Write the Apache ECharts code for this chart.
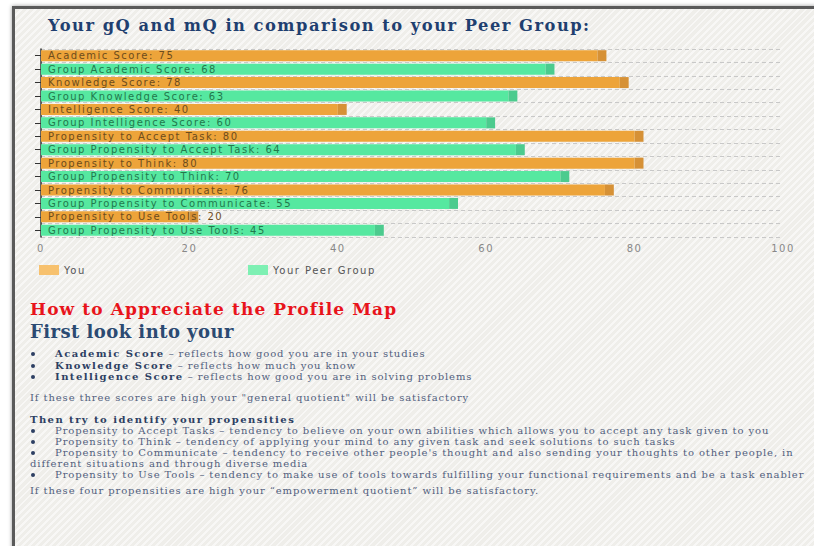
<!DOCTYPE html>
<html>
<head>
<meta charset="utf-8">
<script src="https://cdn.jsdelivr.net/npm/echarts@6/dist/echarts.min.js"></script>
<style>
  html, body { margin: 0; padding: 0; width: 814px; height: 546px; overflow: hidden; background: #fff; }
  .page {
    position: absolute; left: 12px; top: 6px; width: 900px; height: 600px;
    border: 3px solid #5a5a5a;
    box-shadow: 0 0 4px rgba(0,0,0,0.4);
    background-color: #efeeea;
    background-image: repeating-linear-gradient(-45deg, rgba(255,255,255,0.55) 0px, rgba(255,255,255,0.55) 2px, rgba(0,0,0,0) 2px, rgba(0,0,0,0) 5px);
  }
  #chart { position: absolute; left: 0; top: 0; width: 814px; height: 290px; }
  #chart text { letter-spacing: 1.5px; }
  .txt { position: absolute; left: 0; top: 0; font-family: "DejaVu Serif", serif; color: #525f7e; font-size: 10px; letter-spacing: 0.9px; }
  .ln { position: absolute; white-space: nowrap; line-height: 12px; }
  .h1 { color: #e8141b; font-weight: bold; font-size: 17px; line-height: 20px; letter-spacing: 1.1px; }
  .h2 { color: #2b4a72; font-weight: bold; font-size: 18px; line-height: 20px; letter-spacing: 0.45px; }
  .b { color: #2d3f63; font-weight: bold; letter-spacing: 1.45px; }
  .dot { position: absolute; width: 4px; height: 4px; border-radius: 2px; background: #2d3f63; }
</style>
</head>
<body>
<div class="page"></div>
<div id="chart"></div>
<div class="txt">
  <div class="ln h1" style="left:30px;top:299px">How to Appreciate the Profile Map</div>
  <div class="ln h2" style="left:30px;top:322px">First look into your</div>

  <div class="dot" style="left:31px;top:352px"></div>
  <div class="ln" style="left:55px;top:348px"><span class="b">Academic Score</span> – reflects how good you are in your studies</div>
  <div class="dot" style="left:31px;top:364px"></div>
  <div class="ln" style="left:55px;top:360px"><span class="b">Knowledge Score</span> – reflects how much you know</div>
  <div class="dot" style="left:31px;top:375px"></div>
  <div class="ln" style="left:55px;top:371px"><span class="b">Intelligence Score</span> – reflects how good you are in solving problems</div>

  <div class="ln" style="left:30px;top:392px">If these three scores are high your "general quotient" will be satisfactory</div>

  <div class="ln b" style="left:30px;top:414px">Then try to identify your propensities</div>
  <div class="dot" style="left:31px;top:429px"></div>
  <div class="ln" style="left:55px;top:425px">Propensity to Accept Tasks – tendency to believe on your own abilities which allows you to accept any task given to you</div>
  <div class="dot" style="left:31px;top:440px"></div>
  <div class="ln" style="left:55px;top:436px">Propensity to Think – tendency of applying your mind to any given task and seek solutions to such tasks</div>
  <div class="dot" style="left:31px;top:451px"></div>
  <div class="ln" style="left:55px;top:447px">Propensity to Communicate – tendency to receive other people's thought and also sending your thoughts to other people, in</div>
  <div class="ln" style="left:30px;top:458px">different situations and through diverse media</div>
  <div class="dot" style="left:31px;top:473px"></div>
  <div class="ln" style="left:55px;top:469px">Propensity to Use Tools – tendency to make use of tools towards fulfilling your functional requirements and be a task enabler</div>

  <div class="ln" style="left:30px;top:485px">If these four propensities are high your “empowerment quotient” will be satisfactory.</div>
</div>
<script>
// categories, top to bottom
var categories = [
  'Academic Score', 'Group Academic Score',
  'Knowledge Score', 'Group Knowledge Score',
  'Intelligence Score', 'Group Intelligence Score',
  'Propensity to Accept Task', 'Group Propensity to Accept Task',
  'Propensity to Think', 'Group Propensity to Think',
  'Propensity to Communicate', 'Group Propensity to Communicate',
  'Propensity to Use Tools', 'Group Propensity to Use Tools'
];
// own scores (rows of the peer group left empty)
var youValues = [75, '-', 78, '-', 40, '-', 80, '-', 80, '-', 76, '-', 20, '-'];
// peer group scores
var peerValues = ['-', 68, '-', 63, '-', 60, '-', 64, '-', 70, '-', 55, '-', 45];
var xTicks = [0, 20, 40, 60, 80, 100];

var CAP = 1.2; // darker end piece of each bar
var capValues = categories.map(function () { return CAP; });

var myChart = echarts.init(document.getElementById('chart'), null, { renderer: 'svg' });

function labelOpt(color) {
  return {
    show: true,
    position: 'insideLeft',
    distance: 7,
    color: color,
    fontSize: 10,
    fontFamily: 'DejaVu Sans',
    formatter: function (p) { return p.name + ': ' + p.value; }
  };
}

var option = {
  animation: false,
  title: {
    text: 'Your gQ and mQ in comparison to your Peer Group:',
    left: 43,
    top: 12,
    textStyle: { fontFamily: 'DejaVu Serif', fontWeight: 'bold', fontSize: 16.3, color: '#1f3f70' }
  },
  legend: [
    {
      left: 34, top: 260, itemWidth: 20, itemHeight: 10, icon: 'rect', itemGap: 10,
      data: [{ name: 'You', itemStyle: { color: '#f7c16e' } }],
      textStyle: { color: '#555', fontSize: 10, fontFamily: 'DejaVu Sans' }
    },
    {
      left: 243, top: 260, itemWidth: 20, itemHeight: 10, icon: 'rect',
      data: [{ name: 'Your Peer Group', itemStyle: { color: '#7ef0b3' } }],
      textStyle: { color: '#555', fontSize: 10, fontFamily: 'DejaVu Sans' }
    }
  ],
  grid: { left: 41, right: 31, top: 49, height: 188 },
  xAxis: {
    type: 'value',
    min: xTicks[0],
    max: xTicks[xTicks.length - 1],
    interval: xTicks[1] - xTicks[0],
    axisLine: { show: false },
    axisTick: { show: false },
    splitLine: { show: false },
    axisLabel: { color: '#888', fontSize: 10, fontFamily: 'DejaVu Sans', margin: 6 }
  },
  yAxis: {
    type: 'category',
    inverse: true,
    data: categories,
    axisLine: { show: true, lineStyle: { color: '#333', width: 1.5 } },
    axisTick: { show: true, interval: 0, alignWithLabel: true, length: 6, lineStyle: { color: '#333' } },
    axisLabel: { show: false, interval: 0 },
    splitLine: { show: true, interval: 0, lineStyle: { color: '#c8c8c8', type: [4, 3] } }
  },
  series: [
    {
      name: 'You',
      type: 'bar',
      stack: 'score',
      barWidth: 11,
      itemStyle: { color: '#eda43a' },
      label: labelOpt('#6e4c1c'),
      data: youValues
    },
    {
      name: 'Your Peer Group',
      type: 'bar',
      stack: 'score',
      barWidth: 11,
      itemStyle: { color: '#56e8a0' },
      label: labelOpt('#23784c'),
      data: peerValues
    },
    {
      name: 'cap',
      type: 'bar',
      stack: 'score',
      barWidth: 11,
      silent: true,
      itemStyle: {
        color: function (p) { return youValues[p.dataIndex] !== '-' ? '#d69136' : '#4ccb8e'; }
      },
      data: capValues
    }
  ]
};
myChart.setOption(option);
</script>
</body>
</html>
